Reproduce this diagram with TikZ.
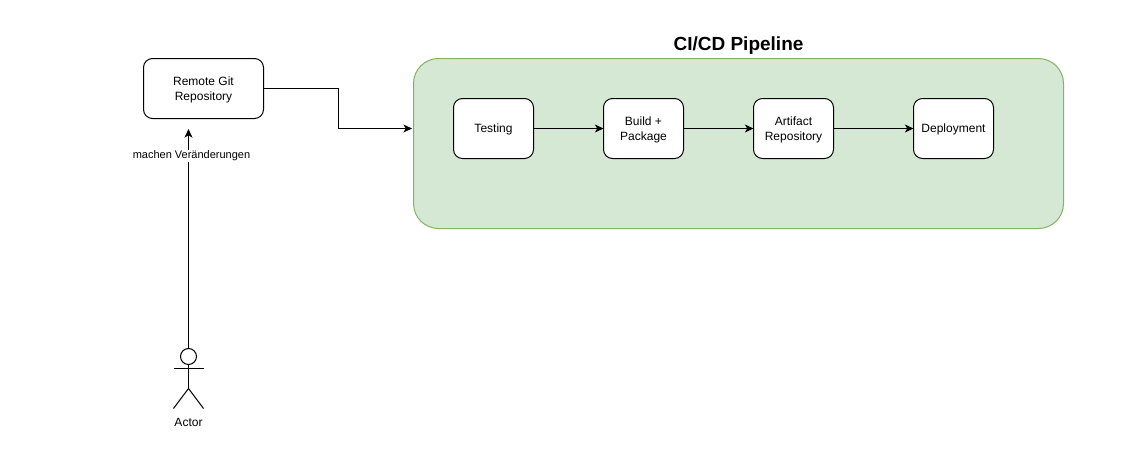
\documentclass[tikz,border=0pt]{standalone}
\usepackage{fontspec}
\setmainfont{Liberation Sans}
\usetikzlibrary{arrows.meta}
\definecolor{pipefill}{HTML}{D5E8D4}
\definecolor{pipeline}{HTML}{82B366}
\newcommand{\nudgedown}[1]{\raisebox{-0.75pt}[\height][\depth]{#1}}
\tikzset{
  x=0.75pt,y=-0.75pt,
  stagebox/.style={draw=black,fill=white,line width=0.75pt,rounded corners=6.75pt,minimum width=60pt,minimum height=45pt,inner sep=0pt,outer sep=0pt,align=center,font=\fontsize{9}{11.25}\selectfont},
  repobox/.style={stagebox,minimum width=90pt},
  pipebox/.style={draw=pipeline,fill=pipefill,line width=0.75pt,rounded corners=18.75pt,minimum width=487.5pt,minimum height=127.5pt,inner sep=0pt,outer sep=0pt},
  flow/.style={line width=0.8pt,draw=black,-{Stealth[length=6.5pt,width=6pt,inset=1.8pt]}},
  stick/.style={line width=0.8pt,draw=black},
  caption/.style={inner sep=1pt,font=\fontsize{9}{11.25}\selectfont},
  smallcaption/.style={inner sep=1pt,font=\fontsize{8.25}{10}\selectfont},
}
\begin{document}
\begin{tikzpicture}
\useasboundingbox (0,0) rectangle (1140,468);
\fill[white] (0,0) rectangle (1140,468);
\node[pipebox] (pipe) at (738.5,143.5) {};
\node[font=\fontsize{14.25}{17}\selectfont\bfseries,inner sep=0pt] (title) at (738.5,46) {CI/CD Pipeline};
\node[repobox] (git) at (203.5,88.5) {\nudgedown{\parbox{90pt}{\centering Remote Git\\Repository}}};
\node[stagebox] (test) at (493.5,128.5) {\nudgedown{Testing}};
\node[stagebox] (build) at (643.5,128.5) {\nudgedown{\parbox{60pt}{\centering Build +\\Package}}};
\node[stagebox] (art) at (793.5,128.5) {\nudgedown{\parbox{60pt}{\centering Artifact\\Repository}}};
\node[stagebox] (dep) at (953.5,128.5) {\nudgedown{Deployment}};
\coordinate (pipein) at (412,128.5);
\coordinate (gittip) at (188.5,129);
\node[draw=black,fill=white,line width=0.8pt,circle,minimum size=12pt,inner sep=0pt,outer sep=0pt] (head) at (188.5,356.5) {};
\coordinate (neck) at (188.5,388.5);
\coordinate (armL) at (173.5,368.5);
\coordinate (armR) at (203.5,368.5);
\coordinate (legL) at (173.5,408.5);
\coordinate (legR) at (203.5,408.5);
\draw[stick] (head.south) -- (neck);
\draw[stick] (armL) -- (armR);
\draw[stick] (legL) -- (neck) -- (legR);
\node[caption] (actor) at (188.5,422.5) {Actor};
\draw[flow] (git.east) -- (338.5,88.5) -- (338.5,128.5) -- (pipein);
\draw[flow] (test) -- (build);
\draw[flow] (build) -- (art);
\draw[flow] (art) -- (dep);
\draw[flow] (head.north) -- (gittip);
\node[smallcaption,fill=white] (change) at (191.5,156) {machen Veränderungen};
\end{tikzpicture}
\end{document}
